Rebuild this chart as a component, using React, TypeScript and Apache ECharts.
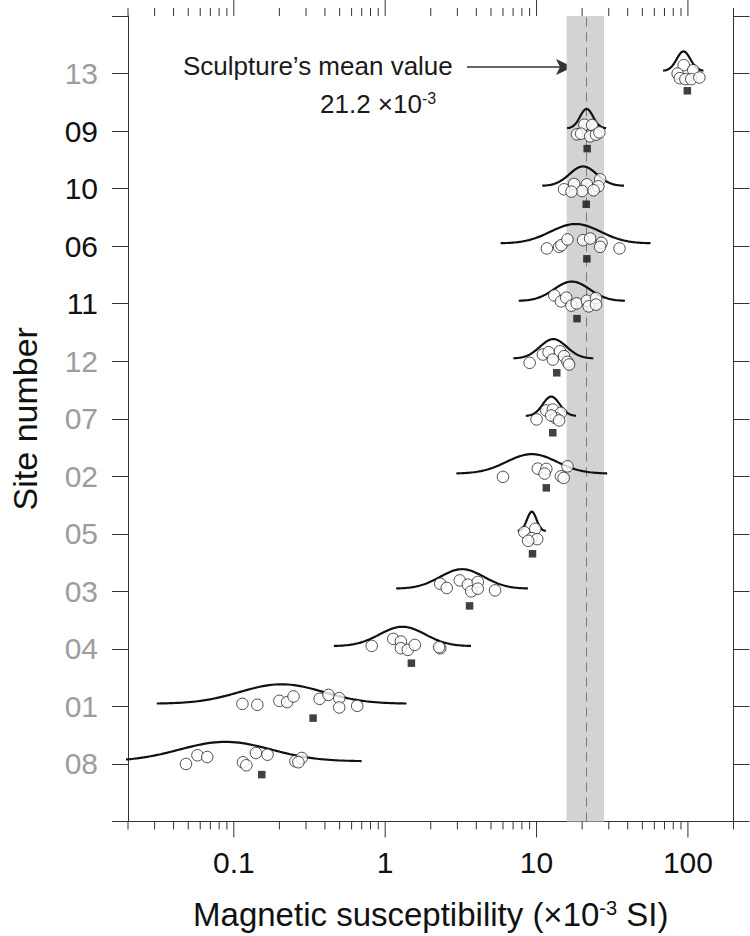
import React, { useEffect, useRef } from 'react';
import * as echarts from 'echarts';

// Sites, top to bottom
const sites = ['13', '09', '10', '06', '11', '12', '07', '02', '05', '03', '04', '01', '08'];
const highlightedSites = ['09', '10', '06', '11'];

// Individual specimen values (x10^-3 SI), per site
const measurements: number[][] = [
  [93.8, 85.5, 108.4, 88.4, 96.2, 105.2, 119.0],
  [20.7, 23.3, 18.5, 19.7, 22.6, 24.7, 26.0],
  [15.2, 17.7, 21.5, 26.3, 25.6, 23.8, 20.0, 17.0],
  [11.7, 14.1, 14.6, 16.0, 20.3, 22.6, 26.9, 26.3, 35.3],
  [13.1, 14.5, 15.7, 17.0, 18.4, 21.5, 22.1, 24.7, 24.7],
  [9.0, 11.0, 12.0, 12.8, 14.3, 15.2, 16.0, 16.4],
  [10.0, 11.6, 12.8, 14.5, 13.4, 12.5, 14.1],
  [6.0, 10.2, 11.6, 11.3, 14.5, 16.0, 15.1],
  [8.3, 9.8, 9.3, 10.1, 8.8],
  [2.31, 2.55, 3.11, 3.52, 3.7, 4.09, 4.09, 5.32],
  [0.815, 1.13, 1.27, 1.27, 1.41, 1.57, 2.31, 2.27],
  [0.114, 0.143, 0.2, 0.225, 0.248, 0.369, 0.422, 0.497, 0.497, 0.653],
  [0.0483, 0.0575, 0.0667, 0.115, 0.121, 0.14, 0.167, 0.255, 0.281, 0.267],
];
// vertical jitter of each specimen dot (in row units)
const measurementJitter: number[][] = [
  [0.146, 0, 0.059, -0.08, -0.097, -0.097, -0.069],
  [0.111, 0.104, -0.057, -0.045, -0.092, -0.062, -0.023],
  [-0.012, 0.08, 0.075, 0.161, 0.04, -0.029, -0.042, -0.052],
  [-0.04, -0.012, 0.017, 0.116, 0.104, 0.133, 0.057, -0.012, -0.04],
  [0.144, 0.04, 0.104, -0.035, 0.005, 0.052, -0.047, 0.099, -0.017],
  [-0.028, 0.116, 0.156, 0.029, 0.173, 0.087, -0.01, -0.057],
  [-0.012, 0.144, 0.161, 0.104, 0.012, 0.057, -0.029],
  [-0.01, 0.133, 0.128, 0.047, 0, 0.173, -0.028],
  [0.029, 0.087, -0.075, -0.092, -0.121],
  [0.133, 0.059, 0.191, 0.116, 0, 0.163, 0.047, 0.017],
  [0.052, 0.173, 0.128, 0.012, -0.017, 0.069, 0.012, 0.03],
  [0.045, 0.028, 0.097, 0.075, 0.173, 0.132, 0.201, 0.144, -0.017, 0.01],
  [0, 0.151, 0.121, 0.029, -0.023, 0.191, 0.161, 0.047, 0.104, 0.03],
];
// site mean (black squares)
const siteMeans = [99.1, 21.6, 21.3, 21.5, 18.5, 13.6, 12.8, 11.6, 9.4, 3.61, 1.49, 0.334, 0.153];
const siteMeanOffset = [-0.3, -0.305, -0.272, -0.22, -0.26, -0.201, -0.243, -0.201, -0.347, -0.253, -0.248, -0.203, -0.185];
// fitted log-normal curves: centre value and sigma (log10 units)
const fitCentre = [93.5, 21.4, 20.3, 18.1, 17.1, 12.9, 12.5, 9.3, 9.3, 3.22, 1.3, 0.207, 0.088];
const fitSigmaLog = [0.045, 0.043, 0.09, 0.165, 0.117, 0.088, 0.056, 0.166, 0.031, 0.145, 0.151, 0.275, 0.3];

// sculpture reference
const sculptureMean = 21.2;
const sculptureRange = [15.8, 27.9];

// x-axis ticks
const majorTicks = [0.1, 1, 10, 100];
const minorTicks = [
  0.02, 0.03, 0.04, 0.05, 0.06, 0.07, 0.08, 0.09,
  0.2, 0.3, 0.4, 0.5, 0.6, 0.7, 0.8, 0.9,
  2, 3, 4, 5, 6, 7, 8, 9,
  20, 30, 40, 50, 60, 70, 80, 90,
  200,
];

const FONT = '"Liberation Sans", Arial, Helvetica, sans-serif';
const AXIS = '#333333';

function rowOf(i: number) {
  return sites.length - i;
}

function fitCurve(i: number): number[][] {
  const mu = Math.log10(fitCentre[i]);
  const s = fitSigmaLog[i];
  const row = rowOf(i);
  const pts: number[][] = [];
  for (let k = 0; k <= 80; k++) {
    const t = -3 + (6 * k) / 80;
    pts.push([Math.pow(10, mu + t * s), row + 0.047 + 0.338 * Math.exp(-0.5 * t * t)]);
  }
  return pts;
}

export default function App() {
  const ref = useRef<HTMLDivElement>(null);

  useEffect(() => {
    if (!ref.current) return;
    const chart = echarts.init(ref.current, undefined, { renderer: 'svg' });

    const dots: number[][] = [];
    measurements.forEach((vals, i) => {
      vals.forEach((v, j) => dots.push([v, rowOf(i) + measurementJitter[i][j]]));
    });
    const squares = siteMeans.map((v, i) => [v, rowOf(i) + siteMeanOffset[i]]);
    const tickData = [
      ...majorTicks.map((v) => [v, 1]),
      ...minorTicks.map((v) => [v, 0]),
    ];

    const curveSeries = sites.map((s, i) => ({
      type: 'line',
      name: 'fit ' + s,
      data: fitCurve(i),
      showSymbol: false,
      symbol: 'none',
      smooth: false,
      silent: true,
      z: 2,
      lineStyle: { color: '#111', width: 2.2 },
    }));

    const labelFormatter = (v: number) => {
      const r = Math.round(v);
      if (r < 1 || r > sites.length) return '';
      const s = sites[sites.length - r];
      return highlightedSites.includes(s) ? `{k|${s}}` : `{g|${s}}`;
    };

    const option: any = {
      animation: false,
      backgroundColor: '#ffffff',
      grid: { left: 114, right: 16.5, top: 16, bottom: 112.7, containLabel: false },
      xAxis: [
        {
          type: 'log',
          logBase: 10,
          min: 0.02,
          max: 200,
          position: 'bottom',
          axisLine: { show: true, lineStyle: { color: AXIS, width: 1 } },
          axisTick: { show: false },
          minorTick: { show: false },
          splitLine: { show: false },
          axisLabel: {
            margin: 26,
            fontSize: 30,
            fontFamily: FONT,
            color: '#111',
            showMinLabel: false,
            showMaxLabel: false,
            formatter: (v: number) => {
              const m = majorTicks.find((t) => Math.abs(v / t - 1) < 1e-6);
              return m !== undefined ? String(m) : '';
            },
          },
          name: '{t|Magnetic susceptibility (×10}{s|-3}{t| SI)}',
          nameLocation: 'middle',
          nameGap: 76,
          nameTextStyle: {
            rich: {
              t: { fontSize: 33, fontFamily: FONT, color: '#111' },
              s: { fontSize: 20, fontFamily: FONT, color: '#111', padding: [0, 0, 14, 0] },
            },
          },
        },
        {
          type: 'log',
          logBase: 10,
          min: 0.02,
          max: 200,
          position: 'top',
          axisLine: { show: true, lineStyle: { color: AXIS, width: 1 } },
          axisTick: { show: false },
          axisLabel: { show: false },
          splitLine: { show: false },
        },
      ],
      yAxis: [
        {
          type: 'value',
          min: 0,
          max: 14,
          interval: 1,
          position: 'left',
          axisLine: { show: true, lineStyle: { color: AXIS, width: 1 } },
          axisTick: { show: true, inside: false, length: 16, lineStyle: { color: AXIS, width: 1 } },
          splitLine: { show: false },
          axisLabel: {
            margin: 30,
            formatter: labelFormatter,
            rich: {
              k: { fontSize: 30, fontFamily: FONT, color: '#111' },
              g: { fontSize: 30, fontFamily: FONT, color: '#9d9d9d' },
            },
          },
          name: 'Site number',
          nameLocation: 'middle',
          nameGap: 86,
          nameRotate: 90,
          nameTextStyle: { fontSize: 34, fontFamily: FONT, color: '#111' },
        },
        {
          type: 'value',
          min: 0,
          max: 14,
          interval: 1,
          position: 'right',
          axisLine: { show: true, lineStyle: { color: AXIS, width: 1 } },
          axisTick: { show: true, inside: false, length: 16, lineStyle: { color: AXIS, width: 1 } },
          splitLine: { show: false },
          axisLabel: { show: false },
        },
      ],
      series: [
        ...curveSeries,
        {
          type: 'scatter',
          name: 'specimens',
          data: dots,
          symbol: 'circle',
          symbolSize: 11.5,
          silent: true,
          z: 3,
          itemStyle: { color: '#ffffff', borderColor: '#222', borderWidth: 1 },
        },
        {
          type: 'scatter',
          name: 'site mean',
          data: squares,
          symbol: 'rect',
          symbolSize: 7.5,
          silent: true,
          z: 3,
          itemStyle: { color: '#111' },
          markArea: {
            silent: true,
            z: 1,
            itemStyle: { color: '#d2d3d5' },
            data: [[{ xAxis: sculptureRange[0] }, { xAxis: sculptureRange[1] }]],
          },
          markLine: {
            silent: true,
            z: 1,
            symbol: ['none', 'none'],
            label: { show: false },
            lineStyle: { color: '#7a7a7a', width: 1, type: [9, 6] },
            data: [{ xAxis: sculptureMean }],
          },
        },
        {
          type: 'custom',
          name: 'ticks',
          data: tickData,
          clip: false,
          silent: true,
          z: 4,
          renderItem: (params: any, api: any) => {
            const v = api.value(0);
            const major = api.value(1) === 1;
            const pb = api.coord([v, 0]);
            const pt = api.coord([v, 14]);
            const len = major ? 16 : 8;
            return {
              type: 'group',
              children: [
                {
                  type: 'line',
                  shape: { x1: pb[0], y1: pb[1], x2: pb[0], y2: pb[1] + len },
                  style: { stroke: AXIS, lineWidth: 1 },
                },
                {
                  type: 'line',
                  shape: { x1: pt[0], y1: pt[1], x2: pt[0], y2: pt[1] - len },
                  style: { stroke: AXIS, lineWidth: 1 },
                },
              ],
            };
          },
        },
      ],
      graphic: [
        {
          type: 'text',
          x: 183,
          y: 66,
          silent: true,
          style: {
            text: 'Sculpture’s mean value',
            fontSize: 26,
            fontFamily: FONT,
            fill: '#1a1a1a',
            align: 'left',
            verticalAlign: 'middle',
          },
        },
        {
          type: 'text',
          x: 320,
          y: 104,
          silent: true,
          style: {
            text: '{a|21.2 ×10}{b|-3}',
            align: 'left',
            verticalAlign: 'middle',
            rich: {
              a: { fontSize: 26, fontFamily: FONT, fill: '#1a1a1a', color: '#1a1a1a' },
              b: { fontSize: 16, fontFamily: FONT, fill: '#1a1a1a', color: '#1a1a1a', padding: [0, 0, 12, 0] },
            },
          },
        },
        {
          type: 'line',
          silent: true,
          shape: { x1: 467, y1: 67, x2: 562, y2: 67 },
          style: { stroke: '#333', lineWidth: 1.3 },
        },
        {
          type: 'polygon',
          silent: true,
          shape: { points: [[573, 67], [556, 59], [560, 67], [556, 75]] },
          style: { fill: '#333' },
        },
      ],
    };

    chart.setOption(option);
    return () => chart.dispose();
  }, []);

  return (
    <div
      ref={ref}
      style={{ position: 'absolute', left: 0, top: 0, width: 750, height: 936, background: '#fff' }}
    />
  );
}
